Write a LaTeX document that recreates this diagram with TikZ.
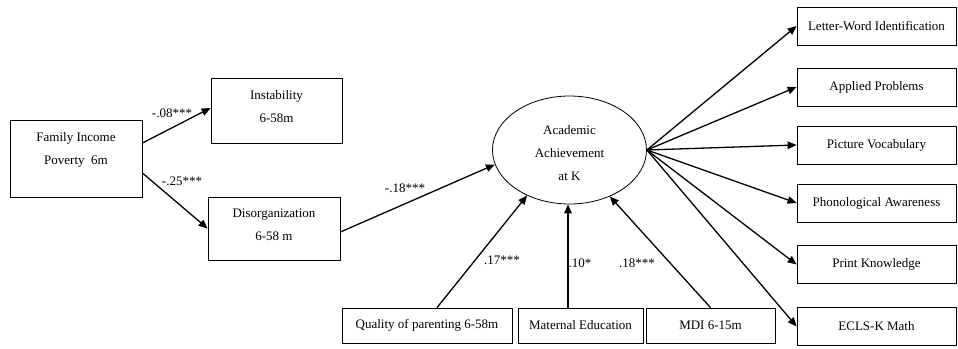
\documentclass[tikz,border=0pt]{standalone}
\usepackage{fontspec}
\setmainfont{Liberation Serif}
\usetikzlibrary{arrows.meta,shapes.geometric}
\begin{document}
\begin{tikzpicture}[x=1pt,y=-1pt,
  every node/.style={font={\fontsize{13pt}{23pt}\selectfont}},
  box/.style={draw,line width=0.8pt,inner sep=0pt,minimum width=#1},
  txt/.style={align=center,inner sep=0pt},
  lab/.style={inner sep=0pt},
  arr/.style={-{Triangle[length=9pt,width=7.5pt]},line width=1.3pt},
  outbox/.style={box=159pt,minimum height=38pt}]
\useasboundingbox (0,0) rectangle (958,348);
% left boxes
\node[box=132pt,minimum height=77pt] (fi) at (76,158.5) {};
\node[txt] (fit) at (76,149.5) {Family Income\\Poverty\ \ 6m};
\node[box=131pt,minimum height=65pt] (inst) at (276.5,110.5) {};
\node[txt] (instt) at (276.5,107) {Instability\\6-58m};
\node[box=132pt,minimum height=63pt] (dis) at (274,228.5) {};
\node[txt] (dist) at (274,225) {Disorganization\\6-58 m};
% latent
\node[draw,ellipse,line width=0.8pt,minimum width=154pt,minimum height=108pt,inner sep=0pt] (acad) at (569.5,150) {};
\node[txt] (acadt) at (569.5,153) {Academic\\Achievement\\at K};
% bottom boxes
\node[box=170pt,minimum height=35pt] (qual) at (427,325.5) {Quality of parenting 6-58m};
\node[box=125pt,minimum height=35pt] (mat) at (580.5,325.5) {Maternal Education};
\node[box=129pt,minimum height=35pt] (mdi) at (710.5,325.5) {MDI 6-15m};
% outcome boxes
\node[outbox] (lw) at (876.5,26) {Letter-Word Identification};
\node[outbox] (ap) at (876.5,87) {Applied Problems};
\node[outbox] (pv) at (876.5,145) {Picture Vocabulary};
\node[outbox] (pa) at (876.5,203) {Phonological Awareness};
\node[outbox] (pk) at (876.5,264.5) {Print Knowledge};
\node[outbox] (em) at (876.5,326.5) {ECLS-K Math};
% paths
\draw[arr] ([yshift=15.5pt]fi.east) -- ([yshift=2.5pt]inst.west);
\draw[arr] ([yshift=-14.5pt]fi.east) -- (dis.west);
\draw[arr] ([yshift=-3.5pt]dis.east) -- (acad.191);
\draw[arr] ([xshift=10pt]qual.north) -- (acad.227);
\draw[arr] ([xshift=-12.5pt]mat.north) -- ([xshift=-12.5pt]mat.north |- acad.south);
\draw[arr] (mdi.north) -- (acad.-49);
\foreach \t in {lw,ap,pv,pa,pk,em}
  \draw[arr] (acad.east) -- (\t.west);
% coefficients
\node[lab] (c1) at (172,113) {-.08***};
\node[lab] (c2) at (182,181) {-.25***};
\node[lab] (c3) at (405,188) {-.18***};
\node[lab] (c4) at (502,260) {.17***};
\node[lab] (c5) at (580,263) {.10*};
\node[lab] (c6) at (637,263) {.18***};
\end{tikzpicture}
\end{document}
